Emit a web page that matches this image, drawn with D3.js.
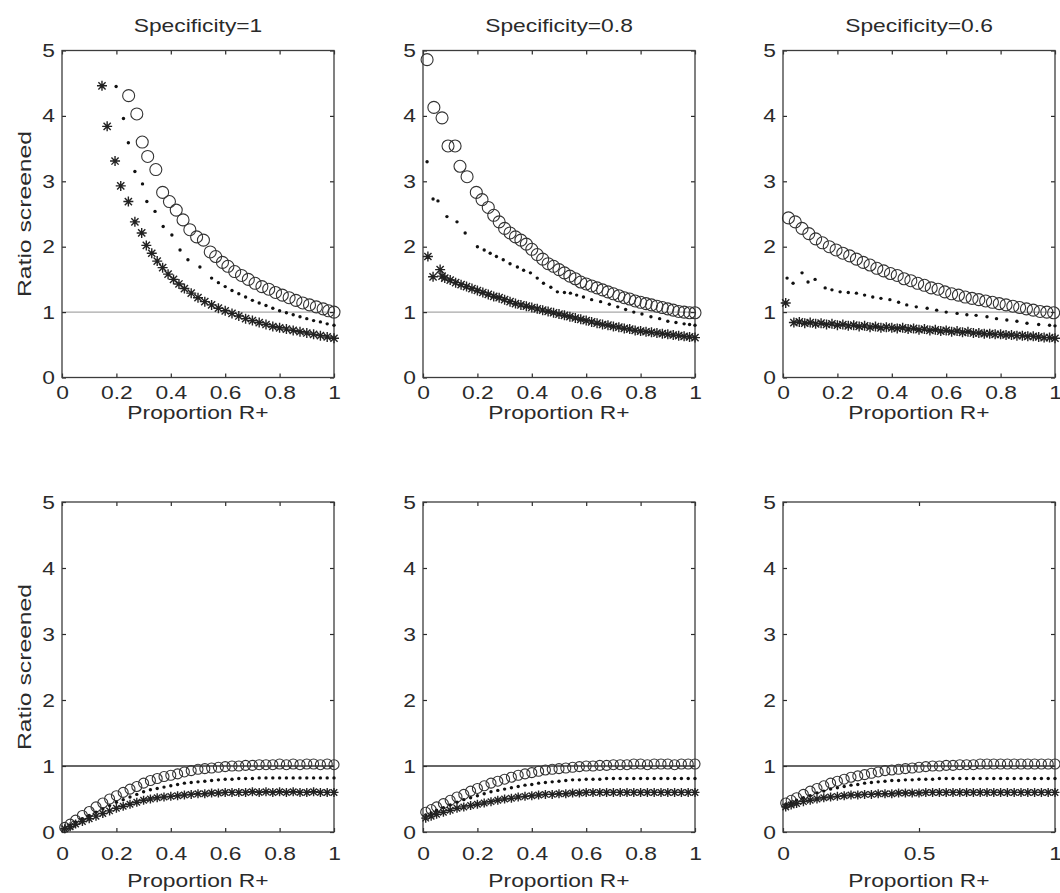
<!DOCTYPE html>
<html>
<head>
<meta charset="utf-8">
<script src="https://cdn.jsdelivr.net/npm/d3@7"></script>
<style>
  body { margin: 0; background: #fff; }
  svg { display: block; font-family: "Liberation Sans", Arial, sans-serif; }
</style>
</head>
<body>
<svg id="chart" width="1060" height="893"></svg>
<script>
// ---- data ----
const titles = ["Specificity=1", "Specificity=0.8", "Specificity=0.6"];
const yTicks = [0, 1, 2, 3, 4, 5];
const xTicksFine = [0, 0.2, 0.4, 0.6, 0.8, 1];
const xTicksCoarse = [0, 0.5, 1];

// top row, specificity = 1
const t1CircX = [0.245,0.275,0.295,0.315,0.345,0.37,0.395,0.42,0.445,0.47,0.495,0.52,0.545,0.565,0.59,0.61,0.635,0.66,0.685,0.71,0.735,0.76,0.785,0.81,0.835,0.86,0.885,0.91,0.935,0.96,0.98,1.0];
const t1CircY = [4.31,4.03,3.6,3.38,3.18,2.83,2.69,2.56,2.41,2.26,2.15,2.1,1.92,1.85,1.76,1.7,1.62,1.56,1.5,1.44,1.39,1.35,1.3,1.26,1.22,1.18,1.14,1.11,1.08,1.05,1.02,1.0];
const t1DotX = [0.199,0.226,0.244,0.268,0.296,0.312,0.342,0.372,0.404,0.434,0.463,0.507,0.55,0.575,0.6,0.625,0.65,0.675,0.7,0.725,0.75,0.775,0.8,0.825,0.85,0.875,0.9,0.925,0.95,0.975,1.0];
const t1DotY = [4.45,3.96,3.59,3.15,2.96,2.69,2.54,2.31,2.18,1.95,1.8,1.69,1.52,1.45,1.39,1.33,1.28,1.23,1.18,1.14,1.1,1.06,1.02,0.99,0.96,0.93,0.9,0.87,0.85,0.82,0.8];
const t1StarX = [0.147,0.166,0.195,0.216,0.244,0.268,0.293,0.31,0.33,0.35,0.37,0.39,0.41,0.43,0.45,0.475,0.5,0.525,0.55,0.575,0.6,0.625,0.65,0.675,0.7,0.725,0.75,0.775,0.8,0.825,0.85,0.875,0.9,0.925,0.95,0.975,1.0];
const t1StarY = [4.46,3.84,3.31,2.93,2.69,2.38,2.21,2.02,1.9,1.78,1.68,1.58,1.5,1.43,1.36,1.29,1.22,1.16,1.11,1.06,1.02,0.98,0.94,0.9,0.87,0.84,0.81,0.78,0.76,0.74,0.72,0.7,0.68,0.66,0.64,0.62,0.6];

// top row, specificity = 0.8
const t2CircX = [0.015,0.04,0.07,0.092,0.118,0.136,0.162,0.196,0.217,0.24,0.26,0.28,0.3,0.32,0.34,0.36,0.38,0.4,0.42,0.44,0.46,0.48,0.5,0.52,0.54,0.56,0.58,0.6,0.62,0.64,0.66,0.68,0.7,0.72,0.74,0.76,0.78,0.8,0.82,0.84,0.86,0.88,0.9,0.92,0.94,0.96,0.98,1.0];
const t2CircY = [4.86,4.13,3.97,3.54,3.54,3.23,3.07,2.83,2.72,2.6,2.48,2.38,2.28,2.21,2.15,2.1,2.04,1.96,1.88,1.81,1.74,1.7,1.65,1.6,1.55,1.51,1.46,1.43,1.4,1.37,1.34,1.31,1.28,1.25,1.22,1.2,1.17,1.15,1.13,1.11,1.09,1.07,1.05,1.03,1.01,1.0,0.99,0.99];
const t2DotX = [0.015,0.037,0.055,0.088,0.125,0.155,0.2,0.225,0.247,0.27,0.295,0.32,0.347,0.37,0.395,0.42,0.443,0.47,0.494,0.52,0.542,0.565,0.59,0.62,0.653,0.685,0.716,0.745,0.775,0.805,0.838,0.87,0.9,0.93,0.96,0.98,1.0];
const t2DotY = [3.3,2.73,2.7,2.46,2.38,2.21,2.0,1.95,1.9,1.85,1.8,1.74,1.69,1.64,1.6,1.52,1.44,1.38,1.31,1.3,1.29,1.26,1.23,1.19,1.16,1.12,1.08,1.04,1.0,0.97,0.93,0.9,0.86,0.84,0.82,0.81,0.8];
const t2StarX = [0.018,0.037,0.063,0.07,0.08,0.1,0.12,0.14,0.16,0.18,0.2,0.22,0.24,0.26,0.28,0.3,0.32,0.34,0.36,0.38,0.4,0.42,0.44,0.46,0.48,0.5,0.52,0.54,0.56,0.58,0.6,0.62,0.64,0.66,0.68,0.7,0.72,0.74,0.76,0.78,0.8,0.82,0.84,0.86,0.88,0.9,0.92,0.94,0.96,0.98,1.0];
const t2StarY = [1.85,1.54,1.65,1.55,1.52,1.49,1.45,1.42,1.39,1.36,1.33,1.3,1.27,1.24,1.22,1.19,1.16,1.13,1.11,1.09,1.07,1.05,1.03,1.01,0.99,0.97,0.95,0.93,0.91,0.89,0.87,0.85,0.83,0.81,0.8,0.78,0.77,0.75,0.74,0.72,0.71,0.7,0.69,0.68,0.67,0.66,0.65,0.64,0.63,0.62,0.61];

// top row, specificity = 0.6
const t3CircX = [0.02,0.045,0.07,0.095,0.12,0.145,0.17,0.195,0.22,0.245,0.27,0.295,0.32,0.345,0.37,0.395,0.42,0.445,0.47,0.495,0.52,0.545,0.57,0.595,0.62,0.645,0.67,0.695,0.72,0.745,0.77,0.795,0.82,0.845,0.87,0.895,0.92,0.945,0.97,0.995];
const t3CircY = [2.44,2.38,2.28,2.2,2.12,2.06,2.0,1.95,1.9,1.86,1.81,1.76,1.72,1.67,1.63,1.59,1.56,1.51,1.48,1.44,1.41,1.37,1.35,1.31,1.28,1.26,1.23,1.21,1.19,1.17,1.15,1.13,1.11,1.09,1.07,1.05,1.03,1.01,1.0,0.99];
const t3DotX = [0.015,0.037,0.07,0.092,0.118,0.155,0.18,0.21,0.24,0.27,0.3,0.33,0.36,0.393,0.425,0.455,0.49,0.53,0.565,0.6,0.64,0.676,0.71,0.75,0.785,0.823,0.86,0.897,0.94,0.98,1.0];
const t3DotY = [1.52,1.44,1.6,1.46,1.5,1.37,1.34,1.31,1.3,1.29,1.26,1.23,1.21,1.19,1.15,1.11,1.08,1.06,1.03,1.0,0.98,0.96,0.95,0.93,0.9,0.88,0.86,0.83,0.81,0.8,0.79];
const t3StarX = [0.01,0.04,0.06,0.08,0.1,0.12,0.14,0.16,0.18,0.2,0.22,0.24,0.26,0.28,0.3,0.32,0.34,0.36,0.38,0.4,0.42,0.44,0.46,0.48,0.5,0.52,0.54,0.56,0.58,0.6,0.62,0.64,0.66,0.68,0.7,0.72,0.74,0.76,0.78,0.8,0.82,0.84,0.86,0.88,0.9,0.92,0.94,0.96,0.98,1.0];
const t3StarY = [1.14,0.84,0.85,0.83,0.84,0.82,0.83,0.81,0.82,0.8,0.81,0.79,0.8,0.78,0.79,0.77,0.78,0.76,0.77,0.76,0.75,0.76,0.74,0.75,0.73,0.74,0.72,0.73,0.71,0.72,0.7,0.71,0.69,0.7,0.68,0.68,0.67,0.67,0.66,0.66,0.65,0.65,0.64,0.64,0.63,0.63,0.62,0.61,0.61,0.6];

// bottom row, shared x positions
const xBottom = [0.01,0.03,0.05,0.075,0.1,0.125,0.15,0.175,0.2,0.225,0.25,0.275,0.3,0.325,0.35,0.375,0.4,0.425,0.45,0.475,0.5,0.525,0.55,0.575,0.6,0.625,0.65,0.675,0.7,0.725,0.75,0.775,0.8,0.825,0.85,0.875,0.9,0.925,0.95,0.975,1.0];
const b1CircY = [0.07,0.12,0.18,0.25,0.31,0.38,0.44,0.5,0.55,0.6,0.65,0.69,0.74,0.78,0.81,0.84,0.86,0.88,0.91,0.93,0.95,0.96,0.97,0.98,0.99,1.0,1.0,1.01,1.01,1.02,1.02,1.02,1.03,1.02,1.03,1.02,1.03,1.03,1.02,1.03,1.02];
const b1DotY = [0.06,0.1,0.15,0.2,0.25,0.3,0.35,0.4,0.45,0.49,0.53,0.57,0.61,0.64,0.66,0.68,0.7,0.72,0.74,0.75,0.76,0.77,0.78,0.79,0.8,0.8,0.81,0.81,0.81,0.82,0.82,0.82,0.82,0.82,0.82,0.82,0.82,0.82,0.82,0.82,0.82];
const b1StarY = [0.05,0.08,0.12,0.16,0.2,0.24,0.28,0.32,0.36,0.39,0.42,0.45,0.48,0.5,0.52,0.53,0.54,0.55,0.56,0.57,0.58,0.58,0.59,0.59,0.6,0.6,0.6,0.6,0.61,0.6,0.61,0.6,0.61,0.6,0.61,0.6,0.6,0.61,0.6,0.6,0.6];
const b2CircY = [0.3,0.34,0.38,0.43,0.48,0.53,0.57,0.62,0.66,0.7,0.74,0.77,0.8,0.83,0.86,0.88,0.9,0.92,0.94,0.95,0.96,0.97,0.98,0.99,1.0,1.0,1.01,1.01,1.02,1.02,1.02,1.03,1.03,1.02,1.03,1.03,1.03,1.02,1.03,1.03,1.03];
const b2DotY = [0.26,0.29,0.33,0.37,0.41,0.45,0.49,0.52,0.55,0.58,0.61,0.63,0.65,0.67,0.69,0.71,0.72,0.74,0.75,0.76,0.77,0.78,0.79,0.79,0.8,0.8,0.8,0.81,0.81,0.81,0.81,0.81,0.81,0.81,0.81,0.81,0.81,0.81,0.81,0.81,0.81];
const b2StarY = [0.21,0.24,0.27,0.3,0.33,0.36,0.38,0.4,0.42,0.44,0.46,0.48,0.5,0.51,0.53,0.54,0.55,0.56,0.57,0.57,0.58,0.58,0.59,0.59,0.6,0.6,0.6,0.6,0.6,0.6,0.6,0.6,0.6,0.6,0.6,0.6,0.6,0.6,0.6,0.6,0.6];
const b3CircY = [0.44,0.48,0.52,0.57,0.62,0.66,0.7,0.74,0.77,0.8,0.83,0.85,0.87,0.89,0.91,0.93,0.94,0.95,0.96,0.97,0.98,0.99,1.0,1.0,1.01,1.01,1.02,1.02,1.02,1.03,1.03,1.03,1.03,1.03,1.03,1.03,1.03,1.03,1.03,1.03,1.03];
const b3DotY = [0.42,0.45,0.48,0.52,0.55,0.59,0.62,0.65,0.67,0.69,0.71,0.72,0.74,0.75,0.76,0.77,0.78,0.78,0.79,0.79,0.8,0.8,0.8,0.81,0.81,0.81,0.81,0.81,0.81,0.81,0.81,0.81,0.81,0.81,0.81,0.81,0.81,0.81,0.81,0.81,0.81];
const b3StarY = [0.38,0.41,0.43,0.46,0.48,0.5,0.52,0.53,0.54,0.55,0.56,0.56,0.57,0.57,0.58,0.58,0.58,0.59,0.59,0.59,0.59,0.6,0.6,0.6,0.6,0.6,0.6,0.6,0.6,0.6,0.6,0.6,0.6,0.6,0.6,0.6,0.6,0.6,0.6,0.6,0.6];

const zip = (xs, ys) => xs.map((x, i) => ({ x, y: ys[i] }));

const panels = [
  { row: 0, col: 0, title: titles[0], xt: xTicksFine, circ: zip(t1CircX, t1CircY), dot: zip(t1DotX, t1DotY), star: zip(t1StarX, t1StarY) },
  { row: 0, col: 1, title: titles[1], xt: xTicksFine, circ: zip(t2CircX, t2CircY), dot: zip(t2DotX, t2DotY), star: zip(t2StarX, t2StarY) },
  { row: 0, col: 2, title: titles[2], xt: xTicksFine, circ: zip(t3CircX, t3CircY), dot: zip(t3DotX, t3DotY), star: zip(t3StarX, t3StarY) },
  { row: 1, col: 0, title: null, xt: xTicksFine, circ: zip(xBottom, b1CircY), dot: zip(xBottom, b1DotY), star: zip(xBottom, b1StarY) },
  { row: 1, col: 1, title: null, xt: xTicksFine, circ: zip(xBottom, b2CircY), dot: zip(xBottom, b2DotY), star: zip(xBottom, b2StarY) },
  { row: 1, col: 2, title: null, xt: xTicksCoarse, circ: zip(xBottom, b3CircY), dot: zip(xBottom, b3DotY), star: zip(xBottom, b3StarY) },
];

// ---- layout ----
const colLeft = [62, 423, 783];
const pw = 272;
const rows = [
  { top: 50.5, bottom: 377.5, pad: 8.5, xlabY: 419, refColor: "#a8a8a8", r: 6, s: 5 },
  { top: 502, bottom: 832, pad: 15, xlabY: 887, refColor: "#333", r: 5, s: 4.5 },
];
const fontSize = 19;
const ink = "#2a2a2a";

const svg = d3.select("#chart");

function starPath(s) {
  const d = s * 0.72;
  return `M${-s},0H${s}M0,${-s}V${s}M${-d},${-d}L${d},${d}M${-d},${d}L${d},${-d}`;
}

panels.forEach(p => {
  const r = rows[p.row];
  const ph = r.bottom - r.top;
  const x = d3.scaleLinear().domain([0, 1]).range([0, pw]);
  const y = d3.scaleLinear().domain([0, 5]).range([ph, 0]);
  const g = svg.append("g").attr("transform", `translate(${colLeft[p.col]},${r.top})`);

  // reference line at ratio 1
  g.append("line")
    .attr("x1", x(0)).attr("x2", x(1))
    .attr("y1", y(1)).attr("y2", y(1))
    .attr("stroke", r.refColor).attr("stroke-width", 1.4);

  const fmt = d3.format("~g");
  const styleAxis = a => {
    a.select(".domain").remove();
    a.attr("font-size", fontSize).attr("font-family", null).attr("color", ink);
    a.selectAll("line").attr("stroke-width", 1.2);
  };

  g.append("g").attr("transform", `translate(0,${ph})`)
    .call(d3.axisBottom(x).tickValues(p.xt).tickFormat(fmt).tickSizeInner(-4).tickSizeOuter(0).tickPadding(r.pad))
    .call(styleAxis);
  g.append("g")
    .call(d3.axisTop(x).tickValues(p.xt).tickFormat("").tickSizeInner(-4).tickSizeOuter(0))
    .call(styleAxis);
  g.append("g")
    .call(d3.axisLeft(y).tickValues(yTicks).tickFormat(fmt).tickSizeInner(-4).tickSizeOuter(0).tickPadding(7))
    .call(styleAxis);
  g.append("g").attr("transform", `translate(${pw},0)`)
    .call(d3.axisRight(y).tickValues(yTicks).tickFormat("").tickSizeInner(-4).tickSizeOuter(0))
    .call(styleAxis);

  g.append("rect")
    .attr("width", pw).attr("height", ph)
    .attr("fill", "none").attr("stroke", "#3c3c3c").attr("stroke-width", 1.3);

  // markers
  g.append("g").selectAll("circle.o")
    .data(p.circ)
    .join("circle")
    .attr("cx", d => x(d.x)).attr("cy", d => y(d.y)).attr("r", r.r)
    .attr("fill", "none").attr("stroke", "#333").attr("stroke-width", 1.1);

  g.append("g").selectAll("circle")
    .data(p.dot)
    .join("circle")
    .attr("cx", d => x(d.x)).attr("cy", d => y(d.y)).attr("r", 1.7)
    .attr("fill", "#111");

  g.append("g").selectAll("path")
    .data(p.star)
    .join("path")
    .attr("transform", d => `translate(${x(d.x)},${y(d.y)})`)
    .attr("d", starPath(r.s))
    .attr("fill", "none").attr("stroke", "#222").attr("stroke-width", 1.4);

  // labels
  if (p.title) {
    svg.append("text")
      .attr("x", colLeft[p.col] + pw / 2).attr("y", 32)
      .attr("text-anchor", "middle").attr("font-size", fontSize).attr("fill", ink)
      .text(p.title);
  }
  svg.append("text")
    .attr("x", colLeft[p.col] + pw / 2).attr("y", r.xlabY)
    .attr("text-anchor", "middle").attr("font-size", fontSize).attr("fill", ink)
    .text("Proportion R+");
  if (p.col === 0) {
    svg.append("text")
      .attr("class", "ylab")
      .attr("transform", `translate(31,${(r.top + r.bottom) / 2}) rotate(-90)`)
      .attr("text-anchor", "middle").attr("font-size", fontSize).attr("fill", ink)
      .text("Ratio screened");
  }
});

// the scanned figure is stretched sideways; widen every text to match
svg.selectAll("text").each(function () {
  const k = this.classList.contains("ylab") ? 1.3 : 1.2;
  const n = this.getComputedTextLength();
  if (n > 0) {
    this.setAttribute("textLength", n * k);
    this.setAttribute("lengthAdjust", "spacingAndGlyphs");
  }
});
</script>
</body>
</html>
